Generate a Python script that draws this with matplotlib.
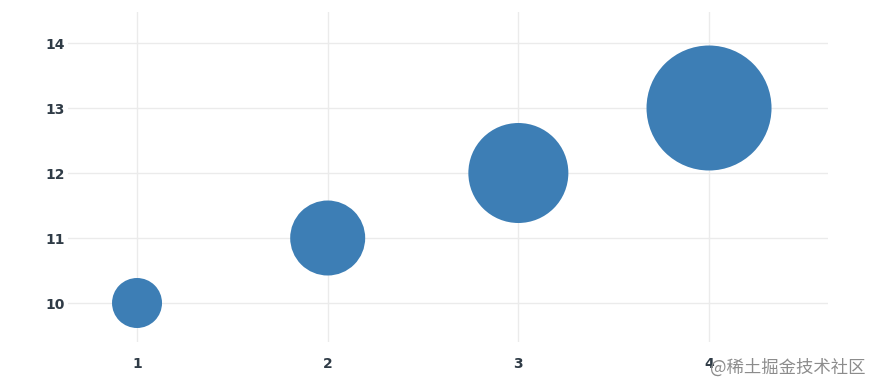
import matplotlib
matplotlib.use("Agg")
import matplotlib.pyplot as plt

# bubble data
x_vals = [1, 2, 3, 4]
y_vals = [10, 11, 12, 13]
sizes = [40, 60, 80, 100]   # marker diameter (plotly px, page scaled 1.25)

dpi = 100
fig = plt.figure(figsize=(8.72, 3.83), dpi=dpi)
ax = fig.add_axes([68/872, 41/383, 760/872, 330/383])

# diameter px -> points^2
s = [(d * 1.25 * 72 / dpi) ** 2 for d in sizes]
ax.scatter(x_vals, y_vals, s=s, color='#3d7eb5', linewidths=0, zorder=3)

ax.set_xlim(0.638, 4.624)
ax.set_ylim(9.4, 14.477)
ax.set_xticks([1, 2, 3, 4])
ax.set_yticks([10, 11, 12, 13, 14])
ax.grid(True, color='#ebebeb', linewidth=1.0, zorder=0)
ax.set_axisbelow(True)
for sp in ax.spines.values():
    sp.set_visible(False)
ax.tick_params(axis='x', length=0, pad=11, labelsize=10, labelcolor='#2f3b46')
ax.tick_params(axis='y', length=0, pad=2, labelsize=10, labelcolor='#2f3b46')
for lab in ax.get_xticklabels() + ax.get_yticklabels():
    lab.set_fontweight('bold')

# watermark
fig.text(0.993, 0.04, '@稀土掘金技术社区', ha='right', va='center', fontsize=12.5,
         color='#8c8c8c', family=['Noto Sans CJK SC', 'DejaVu Sans'])

fig.savefig('out.png', dpi=dpi)
